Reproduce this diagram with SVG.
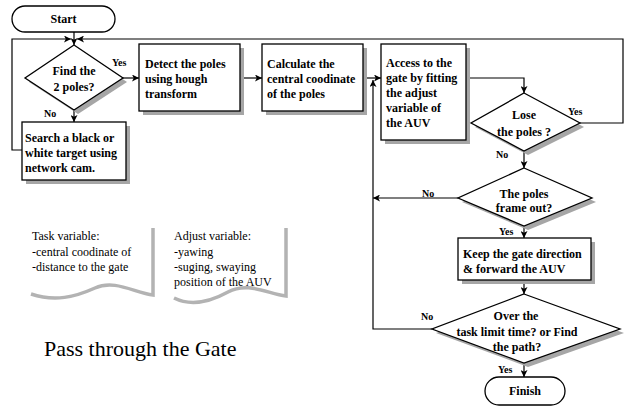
<svg xmlns="http://www.w3.org/2000/svg" width="627" height="407" viewBox="0 0 627 407">
  <defs>
    <marker id="arr" viewBox="0 0 8 8" refX="8" refY="4" markerWidth="7" markerHeight="7" markerUnits="userSpaceOnUse" orient="auto">
      <path d="M0,0 L8,4 L0,8 L2,4 Z" fill="#000"/>
    </marker>
  </defs>
  <style>
    .box { fill: #fff; stroke: #000; stroke-width: 1.3; }
    .shadow { fill: #a6a6a6; stroke: none; }
    .t { font-family: "Liberation Serif", serif; font-weight: bold; font-size: 12px; fill: #000; }
    .lbl { font-family: "Liberation Serif", serif; font-weight: bold; font-size: 10px; fill: #000; }
    .doc { font-family: "Liberation Serif", serif; font-size: 12px; fill: #000; }
    .wave { fill: none; stroke: #b3b3b3; stroke-width: 3.5; }
    .ln { fill: none; stroke: #000; stroke-width: 1.2; }
  </style>

  <!-- connectors -->
  <g id="connectors">
    <!-- start into first decision -->
    <line class="ln" x1="74" y1="32" x2="74" y2="45" marker-end="url(#arr)"/>
    <!-- search loops back to top -->
    <polyline class="ln" points="22,150 12,150 12,39 71,39" marker-end="url(#arr)"/>
    <!-- lose the poles: yes back to top -->
    <polyline class="ln" points="580,123 623,123 623,39 77,39" marker-end="url(#arr)"/>
    <line class="ln" x1="123" y1="78" x2="139" y2="78" marker-end="url(#arr)"/>
    <line class="ln" x1="74" y1="110" x2="74" y2="122" marker-end="url(#arr)"/>
    <line class="ln" x1="240" y1="78" x2="262" y2="78" marker-end="url(#arr)"/>
    <line class="ln" x1="363" y1="78" x2="381" y2="78" marker-end="url(#arr)"/>
    <polyline class="ln" points="466,78 524,78 524,93" marker-end="url(#arr)"/>
    <line class="ln" x1="524" y1="151" x2="524" y2="168" marker-end="url(#arr)"/>
    <line class="ln" x1="458" y1="198" x2="373" y2="198" marker-end="url(#arr)"/>
    <line class="ln" x1="524" y1="226" x2="524" y2="238" marker-end="url(#arr)"/>
    <line class="ln" x1="524" y1="280" x2="524" y2="294" marker-end="url(#arr)"/>
    <polyline class="ln" points="432,329 373,329 373,80" marker-end="url(#arr)"/>
    <line class="ln" x1="524" y1="363" x2="524" y2="377" marker-end="url(#arr)"/>
    <text class="lbl" x="112" y="66">Yes</text>
    <text class="lbl" x="44" y="117">No</text>
    <text class="lbl" x="568" y="115">Yes</text>
    <text class="lbl" x="496" y="158">No</text>
    <text class="lbl" x="422" y="197">No</text>
    <text class="lbl" x="499" y="235">Yes</text>
    <text class="lbl" x="421" y="320">No</text>
    <text class="lbl" x="498" y="373">Yes</text>
  </g>

  <g id="start">
    <rect class="box" x="12" y="6" width="103" height="26" rx="13"/>
    <text class="t" x="63.5" y="23" text-anchor="middle">Start</text>
  </g>

  <g id="find-poles">
    <polygon class="shadow" points="78,49 127,82 78,114 29,82"/>
    <polygon class="box" points="74,45 123,78 74,110 25,78"/>
    <text class="t" x="74" y="75" text-anchor="middle">Find the</text>
    <text class="t" x="74" y="91" text-anchor="middle">2 poles?</text>
  </g>

  <g id="search">
    <rect class="shadow" x="26" y="126" width="104" height="58"/>
    <rect class="box" x="22" y="122" width="104" height="58"/>
    <text class="t" x="25" y="142">Search a black or</text>
    <text class="t" x="25" y="157">white target using</text>
    <text class="t" x="25" y="172">network cam.</text>
  </g>

  <g id="detect">
    <rect class="shadow" x="143" y="48" width="101" height="67"/>
    <rect class="box" x="139" y="44" width="101" height="67"/>
    <text class="t" x="145" y="68">Detect the poles</text>
    <text class="t" x="145" y="83">using hough</text>
    <text class="t" x="145" y="98">transform</text>
  </g>

  <g id="calculate">
    <rect class="shadow" x="266" y="48" width="101" height="67"/>
    <rect class="box" x="262" y="44" width="101" height="67"/>
    <text class="t" x="267" y="68">Calculate the</text>
    <text class="t" x="267" y="83">central coodinate</text>
    <text class="t" x="267" y="98">of the poles</text>
  </g>

  <g id="access">
    <rect class="shadow" x="385" y="48" width="85" height="96"/>
    <rect class="box" x="381" y="44" width="85" height="96"/>
    <text class="t" x="386" y="67">Access to the</text>
    <text class="t" x="386" y="82">gate by fitting</text>
    <text class="t" x="386" y="97">the adjust</text>
    <text class="t" x="386" y="112">variable of</text>
    <text class="t" x="386" y="127">the AUV</text>
  </g>

  <g id="lose-poles">
    <polygon class="shadow" points="528,97 584,127 528,155 475,127"/>
    <polygon class="box" points="524,93 580,123 524,151 471,123"/>
    <text class="t" x="524" y="119" text-anchor="middle">Lose</text>
    <text class="t" x="524" y="136" text-anchor="middle">the poles ?</text>
  </g>

  <g id="frame-out">
    <polygon class="shadow" points="528,172 596,202 528,230 462,202"/>
    <polygon class="box" points="524,168 592,198 524,226 458,198"/>
    <text class="t" x="524" y="198" text-anchor="middle">The poles</text>
    <text class="t" x="524" y="212" text-anchor="middle">frame out?</text>
  </g>

  <g id="keep-direction">
    <rect class="shadow" x="462" y="242" width="133" height="42"/>
    <rect class="box" x="458" y="238" width="133" height="42"/>
    <text class="t" x="463" y="258">Keep the gate direction</text>
    <text class="t" x="463" y="273">&amp; forward the AUV</text>
  </g>

  <g id="limit-time">
    <polygon class="shadow" points="528,298 624,333 528,367 436,333"/>
    <polygon class="box" points="524,294 620,329 524,363 432,329"/>
    <text class="t" x="516" y="320" text-anchor="middle">Over the</text>
    <text class="t" x="517" y="336" text-anchor="middle">task limit time? or Find</text>
    <text class="t" x="517" y="351" text-anchor="middle">the path?</text>
  </g>

  <g id="finish">
    <rect class="box" x="485" y="377" width="80" height="28" rx="14"/>
    <text class="t" x="525" y="395" text-anchor="middle">Finish</text>
  </g>

  <!-- note sheets -->
  <g id="task-variable">
    <path class="wave" d="M153,228 L153,295 C135,293 115,279 95,288 C75,297 55,302 31,294"/>
    <text class="doc" x="32" y="240">Task variable:</text>
    <text class="doc" x="32" y="256">-central coodinate of</text>
    <text class="doc" x="32" y="271">-distance to the gate</text>
  </g>

  <g id="adjust-variable">
    <path class="wave" d="M286,228 L286,296 C268,294 248,281 228,292 C208,303 190,306 174,298"/>
    <text class="doc" x="174" y="240">Adjust variable:</text>
    <text class="doc" x="174" y="256">-yawing</text>
    <text class="doc" x="174" y="271">-suging, swaying</text>
    <text class="doc" x="174" y="286">position of the AUV</text>
  </g>

  <g id="title">
    <text font-family="Liberation Serif, serif" font-size="22" x="44" y="356">Pass through the Gate</text>
  </g>
</svg>
